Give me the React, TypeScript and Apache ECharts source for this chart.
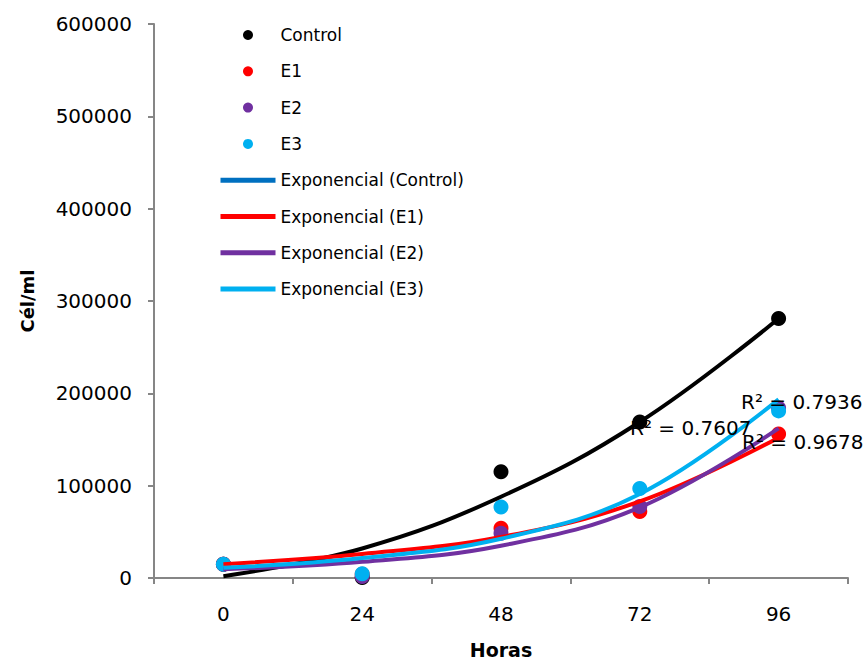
import React, { useEffect, useRef } from "react";
import * as echarts from "echarts";

const categories = ["0", "24", "48", "72", "96"];
const yTicks = [0, 100000, 200000, 300000, 400000, 500000, 600000];

const controlValues = [15000, 500, 115000, 169000, 281000];
const e1Values = [15000, 4000, 54000, 72000, 156000];
const e2Values = [15000, 1500, 48500, 77500, 184000];
const e3Values = [15000, 4500, 77000, 97000, 181000];

const trendControl = [2000, 32000, 88000, 169000, 281000];
const trendE1 = [15000, 26000, 44500, 83000, 152000];
const trendE2 = [9500, 17500, 35000, 76500, 162000];
const trendE3 = [11000, 21600, 42500, 91000, 193500];

const r2Labels = ["R² = 0.7607", "R² = 0.7936", "R² = 0.9678"];

const FONT = "DejaVu Sans";

export default function App() {
  const ref = useRef<HTMLDivElement>(null);
  useEffect(() => {
    if (!ref.current) return;
    const chart = echarts.init(ref.current, undefined, { renderer: "svg" });
    const scatter = (name: string, data: number[], color: string) => ({
      name,
      type: "scatter",
      data,
      symbol: "circle",
      symbolSize: 15,
      itemStyle: { color, opacity: 1 },
      z: 2,
    });
    const trend = (name: string, data: number[], color: string) => ({
      name,
      type: "line",
      data,
      smooth: 0.4,
      symbol: "none",
      showSymbol: false,
      lineStyle: { color, width: 4 },
      itemStyle: { color },
      z: 3,
    });
    const hiddenDot = { opacity: 0, color: "transparent", borderWidth: 0 };
    chart.setOption({
      animation: false,
      backgroundColor: "#ffffff",
      textStyle: { fontFamily: FONT },
      grid: { left: 154, right: 19, top: 24, bottom: 85, containLabel: false },
      legend: {
        orient: "vertical",
        left: 213,
        top: 21,
        itemWidth: 55,
        itemHeight: 10,
        itemGap: 18.3,
        textStyle: { fontFamily: FONT, fontSize: 17, color: "#000", lineHeight: 18 },
        data: [
          { name: "Control", icon: "circle" },
          { name: "E1", icon: "circle" },
          { name: "E2", icon: "circle" },
          { name: "E3", icon: "circle" },
          { name: "Exponencial (Control)", itemStyle: hiddenDot, lineStyle: { color: "#0070C0", width: 5 } },
          { name: "Exponencial (E1)", itemStyle: hiddenDot, lineStyle: { color: "#FF0000", width: 5 } },
          { name: "Exponencial (E2)", itemStyle: hiddenDot, lineStyle: { color: "#7030A0", width: 5 } },
          { name: "Exponencial (E3)", itemStyle: hiddenDot, lineStyle: { color: "#00B0F0", width: 5 } },
        ],
      },
      xAxis: {
        type: "category",
        data: categories,
        boundaryGap: true,
        name: "Horas",
        nameLocation: "middle",
        nameGap: 62,
        nameTextStyle: { fontFamily: FONT, fontSize: 19, fontWeight: "bold", color: "#000" },
        axisLine: { show: true, lineStyle: { color: "#868686", width: 2 } },
        axisTick: { show: true, inside: false, length: 6, lineStyle: { color: "#868686", width: 2 } },
        axisLabel: { fontFamily: FONT, fontSize: 20, color: "#000", margin: 26 },
        splitLine: { show: false },
      },
      yAxis: {
        type: "value",
        min: yTicks[0],
        max: yTicks[yTicks.length - 1],
        interval: yTicks[1] - yTicks[0],
        name: "Cél/ml",
        nameLocation: "middle",
        nameGap: 118,
        nameRotate: 90,
        nameTextStyle: { fontFamily: FONT, fontSize: 18, fontWeight: "bold", color: "#000" },
        axisLine: { show: true, lineStyle: { color: "#868686", width: 2 } },
        axisTick: { show: true, inside: false, length: 6, lineStyle: { color: "#868686", width: 2 } },
        axisLabel: {
          fontFamily: FONT,
          fontSize: 20,
          color: "#000",
          margin: 22,
          formatter: (v: number) => String(v),
        },
        splitLine: { show: false },
      },
      series: [
        scatter("Control", controlValues, "#000000"),
        scatter("E1", e1Values, "#FF0000"),
        scatter("E2", e2Values, "#7030A0"),
        scatter("E3", e3Values, "#00B0F0"),
        trend("Exponencial (Control)", trendControl, "#000000"),
        trend("Exponencial (E1)", trendE1, "#FF0000"),
        trend("Exponencial (E2)", trendE2, "#7030A0"),
        trend("Exponencial (E3)", trendE3, "#00B0F0"),
      ],
      graphic: [
        { type: "text", left: 630, top: 418, z: 10, style: { text: r2Labels[0], fontFamily: FONT, fontSize: 20, fill: "#000" } },
        { type: "text", left: 741, top: 392, z: 10, style: { text: r2Labels[1], fontFamily: FONT, fontSize: 20, fill: "#000" } },
        { type: "text", left: 742, top: 432, z: 10, style: { text: r2Labels[2], fontFamily: FONT, fontSize: 20, fill: "#000" } },
      ],
    });
    return () => chart.dispose();
  }, []);
  return (
    <div
      ref={ref}
      style={{ position: "fixed", left: 0, top: 0, width: 867, height: 664, background: "#fff" }}
    />
  );
}
